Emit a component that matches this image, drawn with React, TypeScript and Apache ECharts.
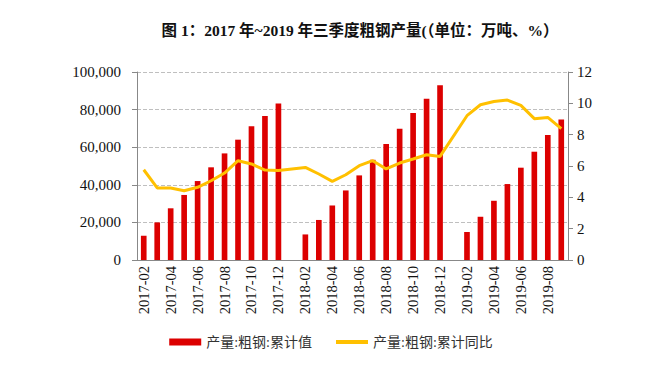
import React, { useEffect, useRef } from "react";
import * as echarts from "echarts";

const categories = [
  "2017-02","2017-03","2017-04","2017-05","2017-06","2017-07","2017-08","2017-09","2017-10","2017-11","2017-12",
  "2018-01","2018-02","2018-03","2018-04","2018-05","2018-06","2018-07","2018-08","2018-09","2018-10","2018-11","2018-12",
  "2019-01","2019-02","2019-03","2019-04","2019-05","2019-06","2019-07","2019-08","2019-09",
];

const cumulativeOutput: (number | null)[] = [
  12900, 20000, 27500, 34600, 42000, 49300, 56700, 64000, 71100, 76600, 83300,
  null, 13600, 21300, 29000, 37000, 45000, 53300, 61700, 69800, 78200, 85800, 92900,
  null, 14900, 23000, 31500, 40400, 49100, 57600, 66500, 74800,
];

const cumulativeYoY: (number | null)[] = [
  5.76, 4.6, 4.6, 4.42, 4.64, 5.06, 5.55, 6.34, 6.13, 5.74, 5.72,
  null, 5.91, 5.49, 5.02, 5.44, 6.02, 6.34, 5.81, 6.19, 6.45, 6.72, 6.61,
  null, 9.21, 9.91, 10.12, 10.21, 9.87, 9.02, 9.1, 8.38,
];

const leftTicks = { min: 0, max: 100000, interval: 20000 };
const rightTicks = { min: 0, max: 12, interval: 2 };

const seriesNames = ["产量:粗钢:累计值", "产量:粗钢:累计同比"];
const titleText = "图 1：2017 年~2019 年三季度粗钢产量(（单位：万吨、%）";

const FONT = "'Liberation Serif', 'Noto Sans CJK SC', serif";

export default function App() {
  const ref = useRef<HTMLDivElement>(null);
  useEffect(() => {
    document.body.style.margin = "0";
    if (!ref.current) return;
    const chart = echarts.init(ref.current, null, { renderer: "svg" });
    chart.setOption({
      animation: false,
      backgroundColor: "#ffffff",
      title: {
        text: titleText,
        left: 355,
        textAlign: "center",
        top: 18,
        textStyle: { fontFamily: FONT, fontSize: 15.5, fontWeight: "bold", color: "#111" },
      },
      legend: {
        bottom: 18,
        left: "center",
        itemGap: 24,
        itemWidth: 32,
        itemHeight: 7,
        symbolKeepAspect: true,
        textStyle: { fontFamily: FONT, fontSize: 14, color: "#333" },
        data: [
          { name: seriesNames[0], icon: "rect" },
          { name: seriesNames[1], icon: "path://M0,0L32,0L32,4L0,4Z" },
        ],
      },
      grid: { left: 137, right: 94, top: 72, bottom: 112 },
      xAxis: {
        type: "category",
        data: categories,
        boundaryGap: true,
        axisLine: { lineStyle: { color: "#888" } },
        axisTick: { interval: 1, length: 5, lineStyle: { color: "#888" } },
        axisLabel: { interval: 1, rotate: 90, fontFamily: FONT, fontSize: 14.5, color: "#111", margin: 6 },
      },
      yAxis: [
        {
          type: "value",
          ...leftTicks,
          axisLine: { show: true, lineStyle: { color: "#888" } },
          axisTick: { show: true, length: 5, lineStyle: { color: "#888" } },
          axisLabel: {
            fontFamily: FONT, fontSize: 15, color: "#111", margin: 16,
            formatter: (v: number) => v.toLocaleString("en-US"),
          },
          splitLine: { lineStyle: { type: "dashed", color: "#BFBFBF" } },
        },
        {
          type: "value",
          ...rightTicks,
          axisLine: { show: true, lineStyle: { color: "#888" } },
          axisTick: { show: true, length: 5, lineStyle: { color: "#888" } },
          axisLabel: { fontFamily: FONT, fontSize: 15, color: "#111", margin: 9 },
          splitLine: { show: false },
        },
      ],
      series: [
        {
          name: seriesNames[0],
          type: "bar",
          data: cumulativeOutput,
          barWidth: "42%",
          itemStyle: { color: "#DC0000" },
        },
        {
          name: seriesNames[1],
          type: "line",
          yAxisIndex: 1,
          data: cumulativeYoY,
          connectNulls: true,
          showSymbol: false,
          symbol: "none",
          lineStyle: { color: "#FFC000", width: 3 },
          itemStyle: { color: "#FFC000" },
        },
      ],
    });
    return () => chart.dispose();
  }, []);
  return <div ref={ref} style={{ width: 662, height: 372 }} />;
}
